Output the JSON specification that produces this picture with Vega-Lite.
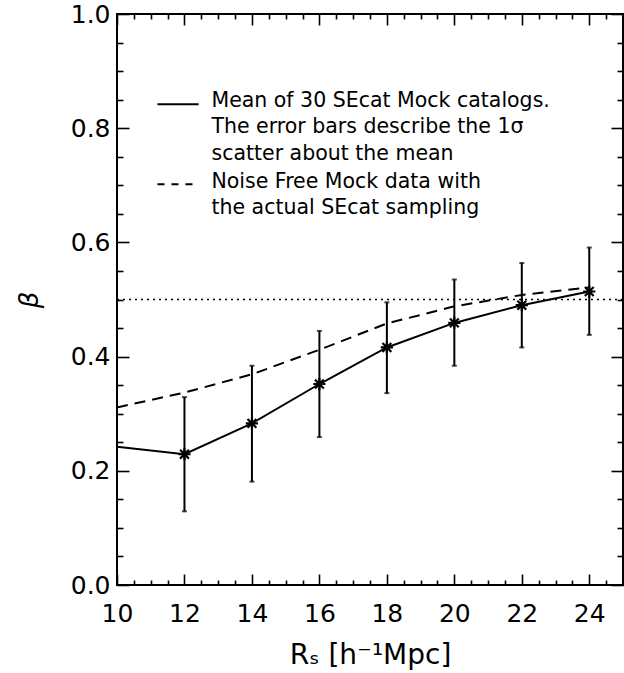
{
  "$schema": "https://vega.github.io/schema/vega-lite/v6.json",
  "width": 506,
  "height": 571,
  "autosize": {"type": "none"},
  "padding": {"left": 117, "top": 14, "right": 1, "bottom": 88},
  "background": "white",
  "config": {
    "view": {"stroke": "black", "strokeWidth": 2},
    "font": "DejaVu Sans",
    "axis": {
      "domain": false,
      "grid": false,
      "labelFlush": false,
      "tickColor": "black",
      "tickWidth": 1.6,
      "labelColor": "black",
      "titleColor": "black",
      "labelFont": "DejaVu Sans",
      "titleFont": "DejaVu Sans",
      "labelFontSize": 25,
      "titleFontSize": 26,
      "titleFontWeight": "normal"
    }
  },
  "datasets": {
    "mean": [
      {"rs": 10, "beta": 0.242},
      {"rs": 12, "beta": 0.229, "lo": 0.129, "hi": 0.329},
      {"rs": 14, "beta": 0.283, "lo": 0.181, "hi": 0.384},
      {"rs": 16, "beta": 0.352, "lo": 0.259, "hi": 0.445},
      {"rs": 18, "beta": 0.416, "lo": 0.336, "hi": 0.495},
      {"rs": 20, "beta": 0.459, "lo": 0.384, "hi": 0.535},
      {"rs": 22, "beta": 0.490, "lo": 0.416, "hi": 0.564},
      {"rs": 24, "beta": 0.514, "lo": 0.438, "hi": 0.591}
    ],
    "noisefree": [
      {"rs": 10, "beta": 0.311},
      {"rs": 12, "beta": 0.337},
      {"rs": 14, "beta": 0.369},
      {"rs": 16, "beta": 0.412},
      {"rs": 18, "beta": 0.458},
      {"rs": 20, "beta": 0.488},
      {"rs": 22, "beta": 0.508},
      {"rs": 24, "beta": 0.521}
    ],
    "one": [{}]
  },
  "resolve": {"axis": {"x": "independent", "y": "independent"}},
  "layer": [
    {
      "data": {"name": "one"},
      "mark": {"type": "rule", "color": "black", "strokeWidth": 1.6, "strokeDash": [2, 4]},
      "encoding": {
        "y": {"datum": 0.5, "type": "quantitative", "axis": null, "scale": {"domain": [0, 1], "nice": false, "zero": false}}
      }
    },
    {
      "data": {"name": "noisefree"},
      "mark": {"type": "line", "color": "black", "strokeWidth": 2, "strokeDash": [11, 7]},
      "encoding": {
        "x": {"field": "rs", "type": "quantitative",
              "scale": {"domain": [10, 25], "nice": false, "zero": false},
              "axis": {"orient": "bottom", "values": [10, 12, 14, 16, 18, 20, 22, 24], "tickSize": -11, "labelPadding": 27, "title": "Rₛ [h⁻¹Mpc]", "titleFontSize": 28, "titlePadding": 15}},
        "y": {"field": "beta", "type": "quantitative",
              "scale": {"domain": [0, 1], "nice": false, "zero": false},
              "axis": {"orient": "left", "values": [0, 0.2, 0.4, 0.6, 0.8, 1.0], "format": ".1f", "tickSize": -12, "labelPadding": 19, "title": "β", "titleFontStyle": "italic", "titlePadding": 28}}
      }
    },
    {
      "data": {"name": "mean"},
      "mark": {"type": "line", "color": "black", "strokeWidth": 2},
      "encoding": {
        "x": {"field": "rs", "type": "quantitative",
              "axis": {"orient": "bottom", "values": [10.5, 11, 11.5, 12.5, 13, 13.5, 14.5, 15, 15.5, 16.5, 17, 17.5, 18.5, 19, 19.5, 20.5, 21, 21.5, 22.5, 23, 23.5, 24.5], "tickSize": -5, "labels": false, "title": null}},
        "y": {"field": "beta", "type": "quantitative",
              "axis": {"orient": "left", "values": [0.05, 0.1, 0.15, 0.25, 0.3, 0.35, 0.45, 0.5, 0.55, 0.65, 0.7, 0.75, 0.85, 0.9, 0.95], "tickSize": -6, "labels": false, "title": null}}
      }
    },
    {
      "data": {"name": "mean"},
      "transform": [{"filter": "isValid(datum.lo)"}],
      "mark": {"type": "rule", "color": "black", "strokeWidth": 2},
      "encoding": {
        "x": {"field": "rs", "type": "quantitative",
              "axis": {"orient": "top", "values": [10, 12, 14, 16, 18, 20, 22, 24], "tickSize": -11, "labels": false, "title": null}},
        "y": {"field": "lo", "type": "quantitative",
              "axis": {"orient": "right", "values": [0, 0.2, 0.4, 0.6, 0.8, 1.0], "tickSize": -12, "labels": false, "title": null}},
        "y2": {"field": "hi"}
      }
    },
    {
      "data": {"name": "mean"},
      "transform": [{"filter": "isValid(datum.lo)"}],
      "mark": {"type": "tick", "color": "black", "orient": "horizontal", "size": 5, "thickness": 2},
      "encoding": {
        "x": {"field": "rs", "type": "quantitative",
              "axis": {"orient": "top", "values": [10.5, 11, 11.5, 12.5, 13, 13.5, 14.5, 15, 15.5, 16.5, 17, 17.5, 18.5, 19, 19.5, 20.5, 21, 21.5, 22.5, 23, 23.5, 24.5], "tickSize": -5, "labels": false, "title": null}},
        "y": {"field": "lo", "type": "quantitative",
              "axis": {"orient": "right", "values": [0.05, 0.1, 0.15, 0.25, 0.3, 0.35, 0.45, 0.5, 0.55, 0.65, 0.7, 0.75, 0.85, 0.9, 0.95], "tickSize": -6, "labels": false, "title": null}}
      }
    },
    {
      "data": {"name": "mean"},
      "transform": [{"filter": "isValid(datum.hi)"}],
      "mark": {"type": "tick", "color": "black", "orient": "horizontal", "size": 5, "thickness": 2},
      "encoding": {
        "x": {"field": "rs", "type": "quantitative", "axis": null},
        "y": {"field": "hi", "type": "quantitative", "axis": null}
      }
    },
    {
      "data": {"name": "mean"},
      "transform": [{"filter": "isValid(datum.lo)"}],
      "mark": {"type": "point", "shape": "M -1 0 L 1 0 M 0 -1 L 0 1 M -0.72 -0.72 L 0.72 0.72 M -0.72 0.72 L 0.72 -0.72", "filled": false, "color": "black", "strokeWidth": 2.2, "size": 150, "opacity": 1},
      "encoding": {
        "x": {"field": "rs", "type": "quantitative", "axis": null},
        "y": {"field": "beta", "type": "quantitative", "axis": null}
      }
    },
    {
      "data": {"name": "one"},
      "mark": {"type": "rule", "color": "black", "strokeWidth": 2},
      "encoding": {
        "x": {"datum": 11.2, "type": "quantitative", "axis": null},
        "x2": {"datum": 12.42},
        "y": {"datum": 0.842, "type": "quantitative", "axis": null}
      }
    },
    {
      "data": {"name": "one"},
      "mark": {"type": "rule", "color": "black", "strokeWidth": 2, "strokeDash": [7, 7]},
      "encoding": {
        "x": {"datum": 11.2, "type": "quantitative", "axis": null},
        "x2": {"datum": 12.42},
        "y": {"datum": 0.702, "type": "quantitative", "axis": null}
      }
    },
    {
      "data": {"name": "one"},
      "mark": {"type": "text", "align": "left", "baseline": "alphabetic", "fontSize": 20.5, "lineHeight": 26.5, "color": "black", "font": "DejaVu Sans"},
      "encoding": {
        "x": {"datum": 12.8, "type": "quantitative", "axis": null},
        "y": {"datum": 0.838, "type": "quantitative", "axis": null},
        "text": {"value": ["Mean of 30 SEcat Mock catalogs.", "The error bars describe the 1σ", "scatter about the mean"]}
      }
    },
    {
      "data": {"name": "one"},
      "mark": {"type": "text", "align": "left", "baseline": "alphabetic", "fontSize": 20.5, "lineHeight": 26, "color": "black", "font": "DejaVu Sans"},
      "encoding": {
        "x": {"datum": 12.8, "type": "quantitative", "axis": null},
        "y": {"datum": 0.696, "type": "quantitative", "axis": null},
        "text": {"value": ["Noise Free Mock data with", "the actual SEcat sampling"]}
      }
    }
  ]
}
